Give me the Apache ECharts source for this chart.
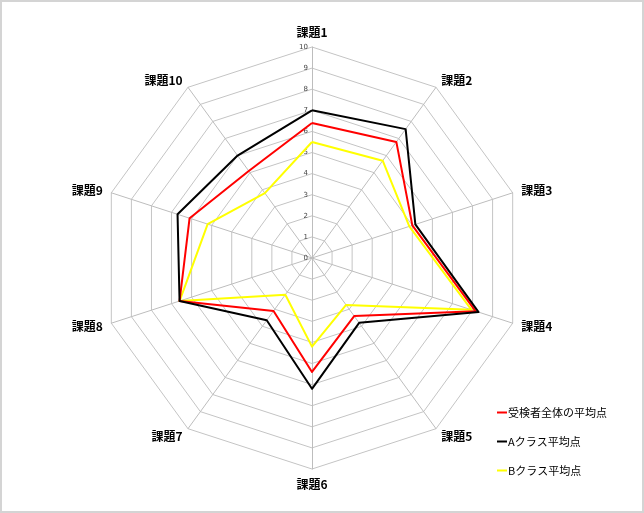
<!DOCTYPE html>
<html>
<head>
<meta charset="utf-8">
<title>課題別平均点</title>
<script src="https://cdn.jsdelivr.net/npm/echarts@6/dist/echarts.min.js"></script>
<style>
  html, body { margin: 0; padding: 0; background: #fff; }
  #chart { width: 640px; height: 509px; border: 2px solid #d4d4d4; }
</style>
</head>
<body>
<div id="chart"></div>
<script>
// 課題名
var tasks = ['課題1', '課題2', '課題3', '課題4', '課題5', '課題6', '課題7', '課題8', '課題9', '課題10'];
// 各系列の平均点
var allAvg = [6.4, 6.8, 5.0, 8.15, 3.4, 5.4, 3.1, 6.6, 6.1, 5.1];
var classA = [7.0, 7.55, 5.15, 8.3, 3.8, 6.2, 3.65, 6.6, 6.7, 6.0];
var classB = [5.5, 5.7, 4.85, 7.95, 2.75, 4.2, 2.15, 6.6, 5.2, 3.8];
var seriesNames = ['受検者全体の平均点', 'Aクラス平均点', 'Bクラス平均点'];
var seriesColors = ['#ff0000', '#000000', '#ffff00'];
var maxScore = 10;

var chart = echarts.init(document.getElementById('chart'));

// echartsのレーダーは反時計回りなので、時計回りになるよう並べ替える (1,10,9,...,2)
var order = [0];
for (var k = tasks.length - 1; k >= 1; k--) order.push(k);
function reorder(arr) {
    return order.map(function (i) { return arr[i]; });
}

var indicators = order.map(function (i, pos) {
    var ind = { name: tasks[i], max: maxScore, min: 0 };
    // 目盛ラベルは課題1の軸だけに出す
    if (pos === 0) {
        ind.axisLabel = { show: true };
    }
    return ind;
});

var data = [allAvg, classA, classB];

var option = {
    animation: false,
    legend: {
        orient: 'vertical',
        left: 490,
        top: 400,
        itemWidth: 10,
        itemHeight: 2,
        itemGap: 18,
        icon: 'rect',
        textStyle: {
            fontFamily: 'Noto Sans CJK JP',
            fontSize: 11,
            color: '#000',
            padding: [0, 0, 0, -4]
        },
        data: seriesNames
    },
    radar: {
        center: [310, 256],
        radius: 211,
        startAngle: 90,
        splitNumber: 10,
        shape: 'polygon',
        indicator: indicators,
        nameGap: 9,
        axisName: {
            color: '#000',
            fontFamily: 'Noto Sans CJK JP',
            fontWeight: 'bold',
            fontSize: 12
        },
        axisLabel: {
            show: false,
            fontSize: 7,
            color: '#444',
            fontFamily: 'DejaVu Sans',
            margin: 4
        },
        axisTick: { show: false },
        axisLine: { lineStyle: { color: '#bdbdbd', width: 1 } },
        splitLine: { lineStyle: { color: '#c4c4c4', width: 1 } },
        splitArea: { show: false }
    },
    series: [{
        type: 'radar',
        symbol: 'none',
        // 描画順: 黄 → 赤 → 黒
        data: [2, 0, 1].map(function (i) {
            return {
                name: seriesNames[i],
                value: reorder(data[i]),
                lineStyle: { color: seriesColors[i], width: 2 },
                itemStyle: { color: seriesColors[i] }
            };
        })
    }]
};

chart.setOption(option);
</script>
</body>
</html>
